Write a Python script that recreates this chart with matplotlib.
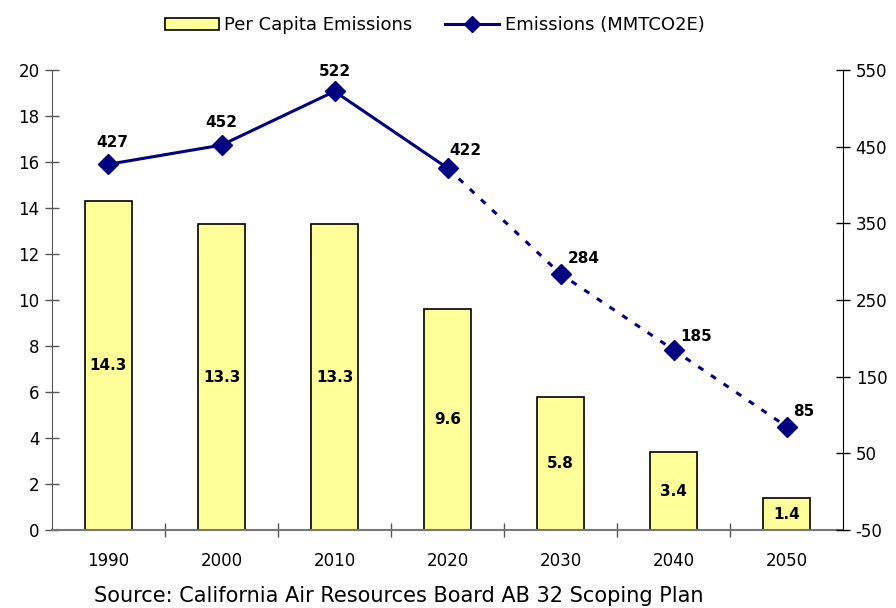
import matplotlib.pyplot as plt
from matplotlib.patches import Patch
from matplotlib.lines import Line2D

years = ['1990', '2000', '2010', '2020', '2030', '2040', '2050']
per_capita = [14.3, 13.3, 13.3, 9.6, 5.8, 3.4, 1.4]
emissions = [427, 452, 522, 422, 284, 185, 85]
# label offsets (points) for the emissions values
label_dx = [3, 0, 0, 13, 17, 16, 12]
label_dy = [16, 16, 14, 13, 11, 10, 11]

navy = '#000080'
bar_yellow = '#FFFF99'

plt.rcParams['font.family'] = 'DejaVu Sans'
plt.rcParams['axes.unicode_minus'] = False

fig = plt.figure(figsize=(8.96, 6.08), dpi=100)
ax = fig.add_axes([0.058, 0.128, 0.883, 0.757])
ax2 = ax.twinx()

x = list(range(len(years)))
bars = ax.bar(x, per_capita, width=0.41, color=bar_yellow, edgecolor='black', linewidth=1.2, zorder=2)
for xi, v in zip(x, per_capita):
    ax.text(xi, v / 2, f'{v:.1f}', ha='center', va='center', fontsize=11, fontweight='bold')

ax.set_xlim(-0.5, len(years) - 0.5)
ax.set_ylim(0, 20)
ax.set_yticks(range(0, 21, 2))
ax.set_xticks(x)
ax.set_xticklabels(years)
ax.set_xticks([i + 0.5 for i in range(len(years) - 1)], minor=True)
ax.tick_params(axis='x', which='major', length=0, pad=16, labelsize=12)
ax.tick_params(axis='x', which='minor', direction='inout', length=10, color='#555555', width=1)
ax.tick_params(axis='y', direction='inout', length=10, color='#555555', width=1, labelsize=12, pad=4)
ax.spines['top'].set_visible(False)
ax.spines['right'].set_visible(False)
ax.spines['left'].set_color('#555555')
ax.spines['bottom'].set_color('#777777')
ax.spines['bottom'].set_linewidth(1.5)

# solid for actuals/targets up to 2020, dashed for the projections
ax2.plot(x[:4], emissions[:4], color=navy, linewidth=2.2, zorder=3)
ax2.plot(x[3:], emissions[3:], color=navy, linewidth=2.2, linestyle=(0, (2, 3)), zorder=3)
ax2.plot(x, emissions, linestyle='none', marker='D', markersize=10, color=navy, zorder=4)
for xi, v, dx, dy in zip(x, emissions, label_dx, label_dy):
    ax2.annotate(str(v), (xi, v), xytext=(dx, dy), textcoords='offset points',
                 ha='center', va='center', fontsize=11, fontweight='bold')

ax2.set_ylim(-50, 550)
ax2.set_yticks(range(-50, 551, 100))
ax2.tick_params(axis='y', direction='inout', length=10, color='black', width=1, labelsize=12, pad=4)
ax2.spines['top'].set_visible(False)
ax2.spines['left'].set_visible(False)
ax2.spines['bottom'].set_visible(False)
ax2.spines['right'].set_color('black')

handles = [Patch(facecolor=bar_yellow, edgecolor='black', linewidth=1.2),
           Line2D([], [], color=navy, linewidth=2.2, marker='D', markersize=8)]
fig.legend(handles, ['Per Capita Emissions', 'Emissions (MMTCO2E)'], loc='upper center',
           bbox_to_anchor=(0.485, 1.0), ncol=2, frameon=False, fontsize=13,
           handlelength=3, handletextpad=0.3, columnspacing=1.8)

fig.text(0.445, 0.003, 'Source: California Air Resources Board AB 32 Scoping Plan',
         ha='center', va='bottom', fontsize=15)

fig.savefig('out.png', dpi=100)
